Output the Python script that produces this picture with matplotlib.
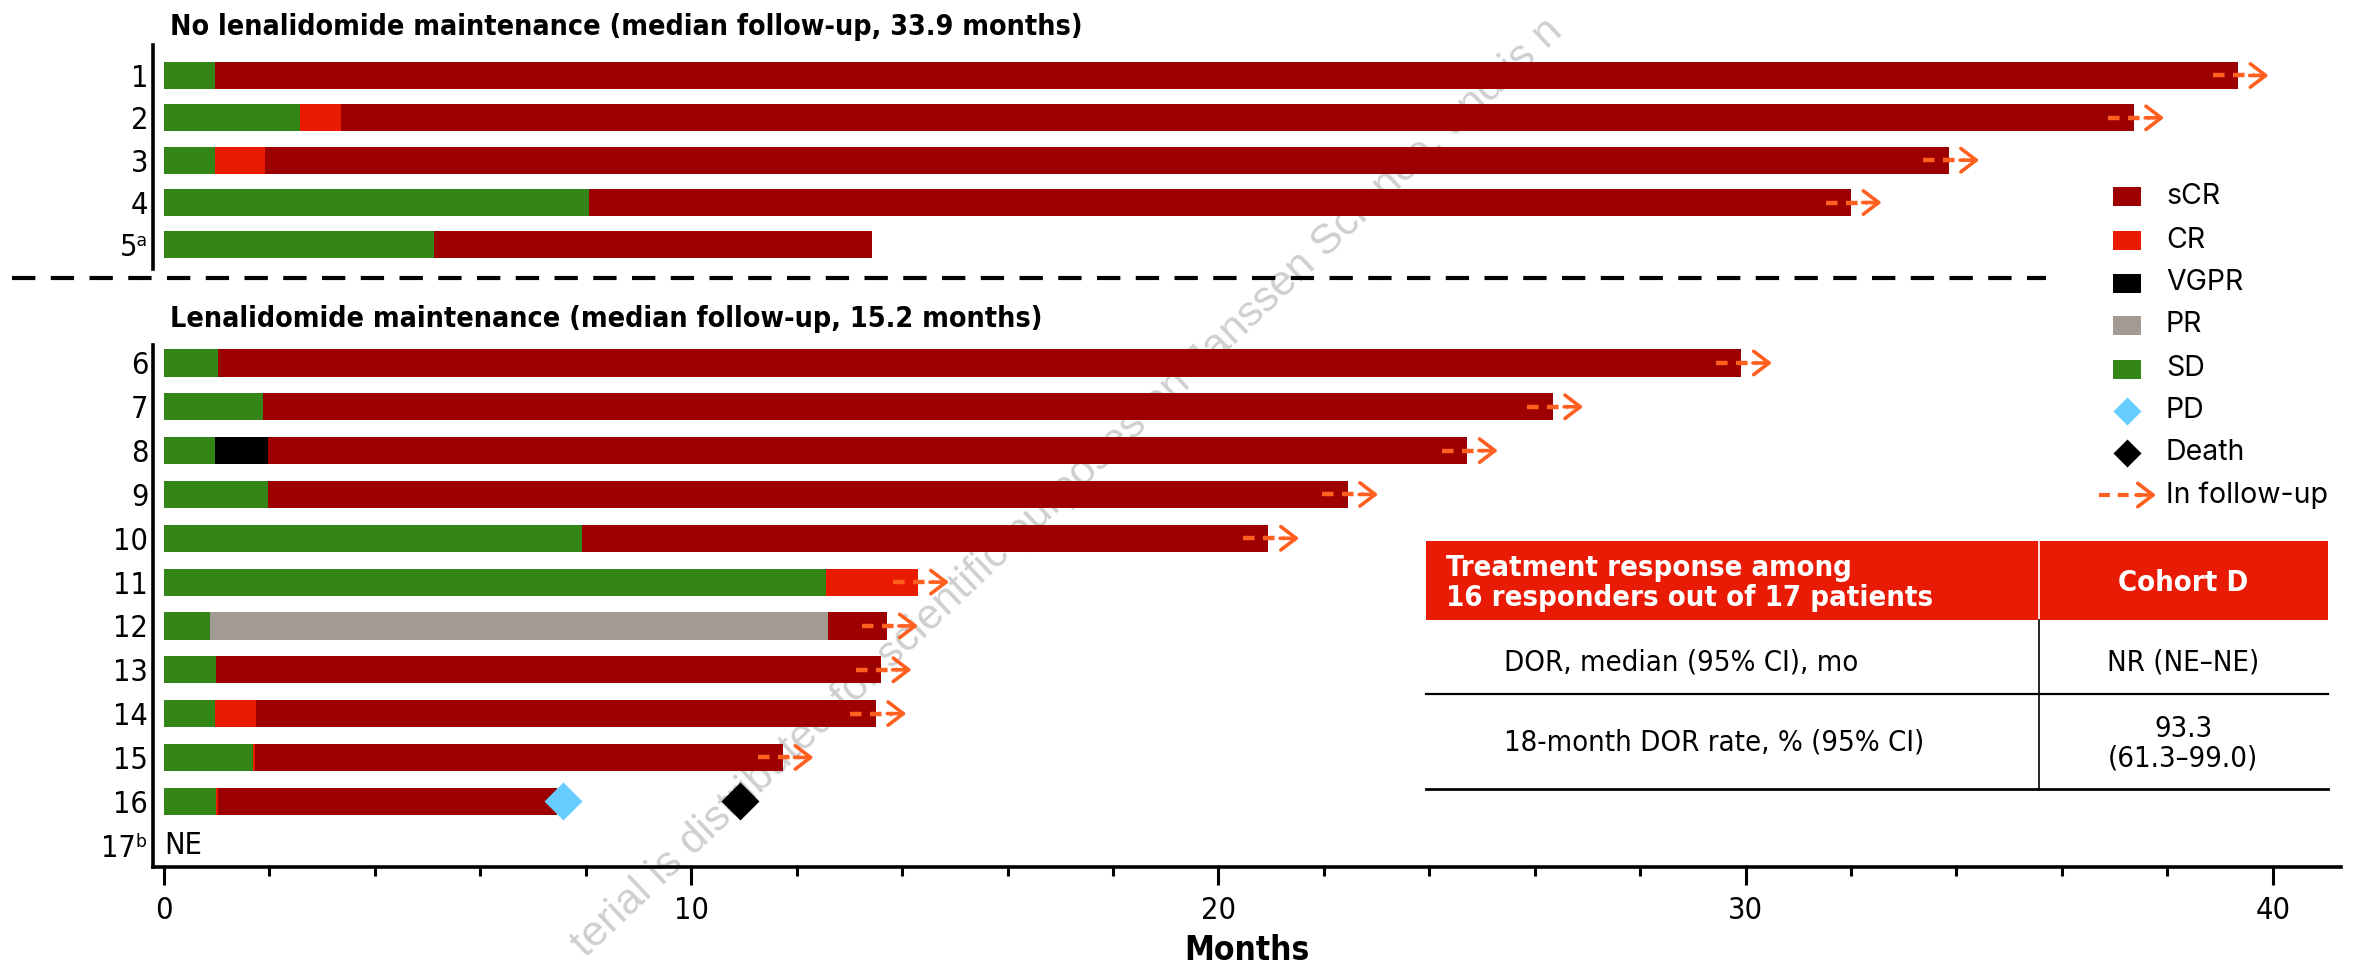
import matplotlib
matplotlib.use("Agg")
import matplotlib.pyplot as plt
from matplotlib import font_manager as fm
from matplotlib.patches import Rectangle

W, H, DPI = 2361, 967, 100

# ---------------- data ----------------
patients = ["1", "2", "3", "4", "5ᵃ", "6", "7", "8", "9", "10", "11", "12",
            "13", "14", "15", "16", "17ᵇ"]
no_maint = list(range(0, 5))
maint = list(range(5, 17))

# months of stable disease before the first response
sd_end = [0.97, 2.58, 0.97, 8.06, 5.13, 1.03, 1.88, 0.97, 1.97, 7.92, 12.56,
          0.88, 0.98, 0.96, 1.68, 0.98, None]
# intermediate response (between SD and sCR) and when it ended
mid_resp = [None, "CR", "CR", None, None, None, None, "VGPR", None, None, "CR",
            "PR", None, "CR", "CR", "CR", None]
mid_end = [None, 3.35, 1.92, None, None, None, None, 1.97, None, None, 14.31,
           12.60, None, 1.74, 1.73, 1.02, None]
# end of sCR
scr_end = [39.34, 37.36, 33.85, 32.00, 13.43, 29.92, 26.34, 24.72, 22.45,
           20.95, None, 13.72, 13.60, 13.50, 11.74, 7.45, None]
in_follow_up = [True, True, True, True, False, True, True, True, True, True,
                True, True, True, True, True, False, False]
pd_time = {"16": 7.56}
death_time = {"16": 10.93}

panel_titles = ["No lenalidomide maintenance (median follow-up, 33.9 months)",
                "Lenalidomide maintenance (median follow-up, 15.2 months)"]
major_ticks = [0, 10, 20, 30, 40]
minor_ticks = [2, 4, 6, 8, 12, 14, 16, 18, 22, 24, 26, 28, 32, 34, 36, 38]

legend_labels = ["sCR", "CR", "VGPR", "PR", "SD", "PD", "Death", "In follow-up"]
table_header = ["Treatment response among\n16 responders out of 17 patients",
                "Cohort D"]
table_rows = [["DOR, median (95% CI), mo", "NR (NE–NE)"],
              ["18-month DOR rate, % (95% CI)", "93.3\n(61.3–99.0)"]]
watermark = "terial is distributed for scientific purposes on Janssen Science, and is n"

# ---------------- style ----------------
colors = {"sCR": "#9C0000", "CR": "#EA1B00", "VGPR": "#000000",
          "PR": "#A39A94", "SD": "#338518"}
pd_color = "#66CCFF"
arrow_color = "#FF5F1F"
header_red = "#E91B05"

names = {f.name for f in fm.fontManager.ttflist}
if "Liberation Sans Narrow" in names:
    NARROW = dict(family="Liberation Sans Narrow")
else:
    NARROW = dict(family="DejaVu Sans", fontstretch="condensed")
if "Inter" in names:
    PLAIN = dict(family="Inter")
elif "Roboto" in names:
    PLAIN = dict(family="Roboto")
else:
    PLAIN = dict(family="DejaVu Sans")

fig = plt.figure(figsize=(W / DPI, H / DPI), dpi=DPI)


def rect(l, t, r, b):
    return [l / W, 1 - b / H, (r - l) / W, (b - t) / H]


X0, PXM = 164.0, 52.72          # pixel of month 0, pixels per month
XL = ((153 - X0) / PXM, (2341 - X0) / PXM)

ax_top = fig.add_axes(rect(153, 45, 2341, 269))
ax_bot = fig.add_axes(rect(153, 345, 2341, 867))
ax_top.set_ylim(5.57, 0.28)
ax_bot.set_ylim(17.5, 5.59)


def draw_arrow(ax, end, y):
    ax.plot([end - 0.48, end + 0.30], [y, y], color=arrow_color, lw=3.2,
            dashes=(2.6, 1.9), solid_capstyle="butt", zorder=4)
    ax.annotate("", xy=(end + 0.58, y), xytext=(end + 0.22, y),
                arrowprops=dict(arrowstyle="->,head_length=0.55,head_width=0.42",
                                color=arrow_color, lw=2.6, shrinkA=0, shrinkB=0,
                                mutation_scale=20), zorder=4)


def draw_group(ax, idx, bar_h):
    for i in idx:
        y = i + 1
        if sd_end[i] is None:
            ax.text(0.0, y, "NE", va="center", ha="left", fontsize=22, **NARROW)
            continue
        segs = [(0.0, sd_end[i], "SD")]
        start = sd_end[i]
        if mid_resp[i]:
            segs.append((start, mid_end[i], mid_resp[i]))
            start = mid_end[i]
        if scr_end[i] is not None:
            segs.append((start, scr_end[i], "sCR"))
            start = scr_end[i]
        for a, b, r in segs:
            ax.barh(y, b - a, left=a, height=bar_h, color=colors[r],
                    linewidth=0, zorder=2)
        if in_follow_up[i]:
            draw_arrow(ax, start, y)
        p = patients[i]
        if p in pd_time:
            ax.plot(pd_time[p], y, marker="D", ms=19, color=pd_color,
                    mec="none", zorder=5)
        if p in death_time:
            ax.plot(death_time[p], y, marker="D", ms=19, color="black",
                    mec="none", zorder=5)
    ax.set_yticks([i + 1 for i in idx])
    ax.set_yticklabels([patients[i] for i in idx], fontsize=22, **NARROW)
    ax.tick_params(axis="y", length=0, pad=3.5)


draw_group(ax_top, no_maint, 0.64)
draw_group(ax_bot, maint, 0.62)

for ax in (ax_top, ax_bot):
    ax.set_xlim(*XL)
    ax.patch.set_alpha(0)
    for s in ("top", "right"):
        ax.spines[s].set_visible(False)
    ax.spines["left"].set_linewidth(2.6)

ax_top.spines["bottom"].set_visible(False)
ax_top.set_xticks([])

ax_bot.spines["bottom"].set_linewidth(2.6)
ax_bot.set_xticks(major_ticks)
ax_bot.set_xticks(minor_ticks, minor=True)
ax_bot.set_xticklabels([str(t) for t in major_ticks], fontsize=22, **NARROW)
ax_bot.tick_params(axis="x", which="major", length=13, width=2.2, pad=8)
ax_bot.tick_params(axis="x", which="minor", length=6.5, width=2.2)
ax_bot.set_xlabel("Months", fontsize=24, fontweight="bold", labelpad=6,
                  **NARROW)

# panel headings
fig.text(170 / W, 1 - 27 / H, panel_titles[0], fontsize=20.5, fontweight="bold",
         va="center", ha="left", **NARROW)
fig.text(170 / W, 1 - 319 / H, panel_titles[1], fontsize=20.5, fontweight="bold",
         va="center", ha="left", **NARROW)

# overlay in pixel coordinates for the separator, legend and table
ov = fig.add_axes([0, 0, 1, 1], zorder=5)
ov.set_xlim(0, W)
ov.set_ylim(H, 0)
ov.axis("off")
ov.patch.set_alpha(0)

ov.plot([12, 2046], [278, 278], color="black", lw=3.0,
        dashes=(5.6, 3.7), solid_capstyle="butt")

# legend
leg_y = [196, 240, 283, 325, 369, 411, 453, 495]
for lab, y in zip(legend_labels, leg_y):
    if lab in colors:
        ov.add_patch(Rectangle((2113, y - 9.5), 28, 19, color=colors[lab], lw=0))
    elif lab == "PD":
        ov.plot(2127, y, marker="D", ms=14, color=pd_color, mec="none")
    elif lab == "Death":
        ov.plot(2127, y, marker="D", ms=14, color="black", mec="none")
    else:
        ov.plot([2099, 2142], [y, y], color=arrow_color, lw=3.0,
                dashes=(2.6, 1.9), solid_capstyle="butt")
        ov.annotate("", xy=(2156, y), xytext=(2136, y),
                    arrowprops=dict(arrowstyle="->,head_length=0.55,head_width=0.42",
                                    color=arrow_color, lw=2.6, shrinkA=0,
                                    shrinkB=0, mutation_scale=20))
    ov.text(2166, y, lab, fontsize=20.5, va="center", ha="left", **PLAIN)

# response table
TL, TR, TD, HB = 1426, 2328, 2039, 620
ov.add_patch(Rectangle((TL, 541), TR - TL, HB - 541, color=header_red, lw=0))
ov.plot([TD, TD], [541, HB], color="white", lw=1.2)
ov.plot([TD, TD], [HB, 789], color="black", lw=1.2)
ov.plot([TL, TR], [694, 694], color="black", lw=1.6)
ov.plot([TL, TR], [789, 789], color="black", lw=2.0)
ov.text(1446, 583, table_header[0], color="white", fontsize=21,
        fontweight="bold", va="center", ha="left", linespacing=1.05, **NARROW)
ov.text(2183, 583, table_header[1], color="white", fontsize=21,
        fontweight="bold", va="center", ha="center", **NARROW)
ov.text(1504, 663, table_rows[0][0], fontsize=21, va="center", ha="left", **NARROW)
ov.text(2183, 663, table_rows[0][1], fontsize=21, va="center", ha="center", **NARROW)
ov.text(1504, 742, table_rows[1][0], fontsize=21, va="center", ha="left", **NARROW)
ov.text(2183, 744, table_rows[1][1], fontsize=21, va="center", ha="center",
        linespacing=1.05, **NARROW)

# diagonal distribution notice behind the bars
fig.text(586 / W, 1 - 958 / H, watermark, fontsize=31, color="#CFCFCF",
         rotation=43.4, rotation_mode="anchor", ha="left", va="baseline",
         family="Liberation Sans", zorder=-1)

fig.savefig("out.png", dpi=DPI)
